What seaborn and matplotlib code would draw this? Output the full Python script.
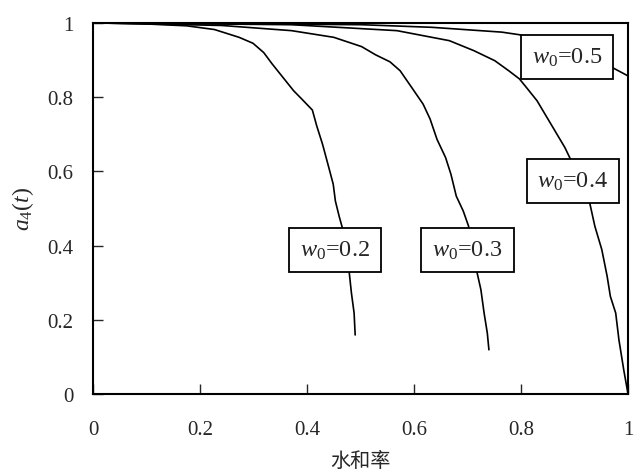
import matplotlib
matplotlib.use("Agg")
import matplotlib.pyplot as plt
import pandas as pd
import seaborn as sns

# curves (x = hydration degree, y = a4(t))
x_w02 = [0.0, 0.10, 0.175, 0.227, 0.273, 0.299, 0.319, 0.335, 0.355, 0.375, 0.39, 0.41,
         0.418, 0.429, 0.44, 0.449, 0.453, 0.46, 0.466, 0.473, 0.479, 0.483, 0.488, 0.49]
y_w02 = [1.0, 0.997, 0.992, 0.982, 0.961, 0.945, 0.92, 0.889, 0.853, 0.817, 0.795, 0.765,
         0.723, 0.673, 0.614, 0.565, 0.52, 0.479, 0.448, 0.39, 0.326, 0.272, 0.218, 0.159]

x_w03 = [0.0, 0.24, 0.371, 0.45, 0.502, 0.528, 0.555, 0.574, 0.597, 0.617, 0.63,
         0.643, 0.659, 0.669, 0.679, 0.692, 0.702, 0.71, 0.718, 0.725, 0.731, 0.737, 0.74]
y_w03 = [1.0, 0.993, 0.979, 0.961, 0.936, 0.914, 0.895, 0.871, 0.823, 0.781, 0.741,
         0.686, 0.637, 0.592, 0.533, 0.493, 0.452, 0.39, 0.326, 0.281, 0.218, 0.164, 0.119]

x_w04 = [0.0, 0.371, 0.568, 0.666, 0.712, 0.751, 0.777, 0.797, 0.81, 0.83, 0.856,
         0.882, 0.892, 0.91, 0.929, 0.938, 0.951, 0.961, 0.967, 0.977, 0.983, 0.992, 1.0]
y_w04 = [1.0, 0.995, 0.979, 0.952, 0.925, 0.898, 0.871, 0.849, 0.826, 0.79, 0.727,
         0.664, 0.634, 0.57, 0.511, 0.452, 0.389, 0.317, 0.263, 0.218, 0.146, 0.065, 0.0]

x_w05 = [0.0, 0.502, 0.633, 0.764, 0.797, 0.88, 0.974, 1.0]
y_w05 = [1.0, 0.995, 0.988, 0.975, 0.968, 0.93, 0.877, 0.857]

series = {"0.2": (x_w02, y_w02), "0.3": (x_w03, y_w03),
          "0.4": (x_w04, y_w04), "0.5": (x_w05, y_w05)}

# label boxes: (text, x, y)
labels = [("0.2", 0.452, 0.387), ("0.3", 0.70, 0.387),
          ("0.4", 0.897, 0.573), ("0.5", 0.886, 0.908)]

rows = []
for w, (xs, ys) in series.items():
    for i, (xv, yv) in enumerate(zip(xs, ys)):
        rows.append({"w0": w, "order": i, "x": xv, "y": yv})
df = pd.DataFrame(rows)

sns.set_style("ticks")
plt.rcParams["font.family"] = ["Liberation Serif", "DejaVu Serif"]
plt.rcParams["mathtext.fontset"] = "custom"
plt.rcParams["mathtext.rm"] = "Liberation Serif"
plt.rcParams["mathtext.it"] = "Liberation Serif:italic"

fig = plt.figure(figsize=(6.35, 4.77), dpi=100)
ax = fig.add_axes([0.1465, 0.172, 0.8425, 0.778])

sns.lineplot(data=df, x="x", y="y", hue="w0", units="w0", estimator=None,
             sort=False, palette=["black"] * 4, linewidth=1.2, legend=False, ax=ax)

for w, xt, yt in labels:
    ax.text(xt, yt, "$w_0$=" + w, ha="center", va="center", fontsize=17.5,
            bbox=dict(boxstyle="square,pad=0.45", fc="white", ec="black", lw=1.3),
            zorder=5)

ax.set_xlim(0, 1)
ax.set_ylim(0, 1)
ax.set_xticks([0, 0.2, 0.4, 0.6, 0.8, 1])
ax.set_xticklabels(["0", "0.2", "0.4", "0.6", "0.8", "1"])
ax.set_yticks([0, 0.2, 0.4, 0.6, 0.8, 1])
ax.set_yticklabels(["0", "0.2", "0.4", "0.6", "0.8", "1"])
ax.tick_params(axis="x", direction="in", length=7, width=1, labelsize=15, pad=19,
               top=False)
ax.tick_params(axis="y", direction="in", length=7, width=1, labelsize=15, pad=14,
               right=False)
for s in ax.spines.values():
    s.set_linewidth(1.5)
    s.set_color("black")

ax.set_xlabel("水和率", fontsize=14.5, family=["Noto Sans CJK SC", "DejaVu Sans"],
              labelpad=8)
ax.set_ylabel("$a_4(t)$", fontsize=17, labelpad=8)

fig.savefig("out.png", dpi=100)
